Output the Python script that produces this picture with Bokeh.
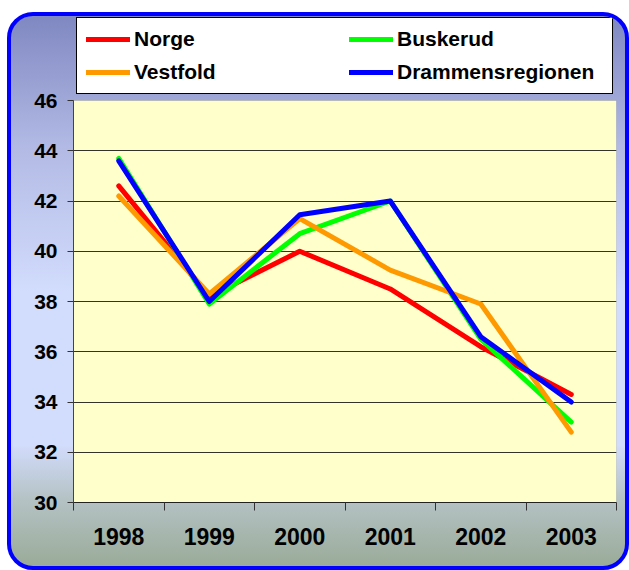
from bokeh.plotting import figure
from bokeh.models import FixedTicker, Legend, LegendItem, Range1d, BoxAnnotation
from bokeh.embed import file_html
from bokeh.resources import INLINE

years = ["1998", "1999", "2000", "2001", "2002", "2003"]
norge = [42.6, 38.2, 40.0, 38.5, 36.2, 34.3]
buskerud = [43.7, 37.9, 40.7, 42.0, 36.5, 33.2]
vestfold = [42.2, 38.3, 41.3, 39.25, 37.9, 32.8]
drammen = [43.6, 38.0, 41.45, 42.0, 36.6, 34.0]
y_ticks = [30, 32, 34, 36, 38, 40, 42, 44, 46]

series = [
    ("Norge", norge, "#FF0000"),
    ("Buskerud", buskerud, "#00FF00"),
    ("Vestfold", vestfold, "#FF9900"),
    ("Drammensregionen", drammen, "#0000FF"),
]
# legend is filled column by column: this gives rows Norge|Buskerud, Vestfold|Drammensregionen
legend_order = ["Norge", "Vestfold", "Buskerud", "Drammensregionen"]

xs = list(range(len(years)))
FONT = "Liberation Sans"

# plot area spans y_ticks[0]..y_ticks[-1]; the frame extends above it to hold the legend
y_lo, y_hi = y_ticks[0], y_ticks[-1]
area_px = 402.0
extra_px = 84.0
y_top = y_hi + extra_px * (y_hi - y_lo) / area_px

p = figure(width=622, height=558, output_backend="svg", toolbar_location=None,
           x_range=Range1d(-0.5, len(years) - 0.5), y_range=Range1d(y_lo, y_top),
           min_border_left=62, min_border_right=17, min_border_top=0, min_border_bottom=72)

p.background_fill_color = None
p.background_fill_alpha = 0
p.border_fill_color = None
p.border_fill_alpha = 0
p.outline_line_color = None
p.styles = {
    "background": "linear-gradient(to bottom, #8088c2 0%, #b4bce6 25%, #d2dcfc 50%, #d2dcfc 78%, #b4c2c4 88%, #9aab98 100%)",
    "border": "4px solid #0000FF",
    "border-radius": "26px",
    "overflow": "hidden",
    "margin-top": "12px",
    "margin-left": "7px",
}

area = BoxAnnotation(bottom=y_lo, top=y_hi, fill_color="#FFFFCC", fill_alpha=1,
                     line_color="#808080", line_width=1, level="image")
p.add_layout(area)

renderers = {}
for name, vals, col in series:
    r = p.line(xs, vals, line_color=col, line_width=5, line_cap="round", line_join="round")
    renderers[name] = r

# axes
p.xaxis.ticker = FixedTicker(ticks=xs, minor_ticks=[i - 0.5 for i in range(len(years) + 1)])
p.xaxis.major_label_overrides = {i: y for i, y in enumerate(years)}
p.xaxis.major_tick_out = 0
p.xaxis.major_tick_in = 0
p.xaxis.minor_tick_out = 8
p.xaxis.minor_tick_in = 0
p.xaxis.minor_tick_line_color = "#333333"
p.xaxis.axis_line_color = "#222222"
p.xaxis.major_label_standoff = 17
p.xaxis.major_label_text_font = FONT
p.xaxis.major_label_text_font_style = "bold"
p.xaxis.major_label_text_font_size = "23px"
p.xaxis.major_label_text_color = "#000000"

p.yaxis.ticker = FixedTicker(ticks=y_ticks)
p.yaxis.bounds = (y_lo, y_hi)
p.yaxis.minor_tick_line_color = None
p.yaxis.major_tick_out = 6
p.yaxis.major_tick_in = 0
p.yaxis.major_tick_line_color = "#333333"
p.yaxis.axis_line_color = "#444444"
p.yaxis.major_label_standoff = 10
p.yaxis.major_label_text_font = FONT
p.yaxis.major_label_text_font_style = "bold"
p.yaxis.major_label_text_font_size = "21px"
p.yaxis.major_label_text_color = "#000000"

p.xgrid.grid_line_color = None
p.ygrid.ticker = FixedTicker(ticks=y_ticks[:-1])
p.ygrid.grid_line_color = "#000000"
p.ygrid.grid_line_alpha = 0.8
p.ygrid.grid_line_width = 1

items = [LegendItem(label=n, renderers=[renderers[n]]) for n in legend_order]
legend = Legend(items=items, ncols=2, location=(3, 408),
                background_fill_color="#FFFFFF", background_fill_alpha=1,
                border_line_color="#000000", border_line_width=1, border_line_alpha=1,
                label_text_font=FONT, label_text_font_style="bold",
                label_text_font_size="21px", label_text_color="#000000",
                glyph_width=44, glyph_height=24, label_height=24,
                label_width=206, label_standoff=4, spacing=9,
                padding=9, margin=0)
p.add_layout(legend, "center")

open("out.html", "w").write(file_html(p, INLINE))
